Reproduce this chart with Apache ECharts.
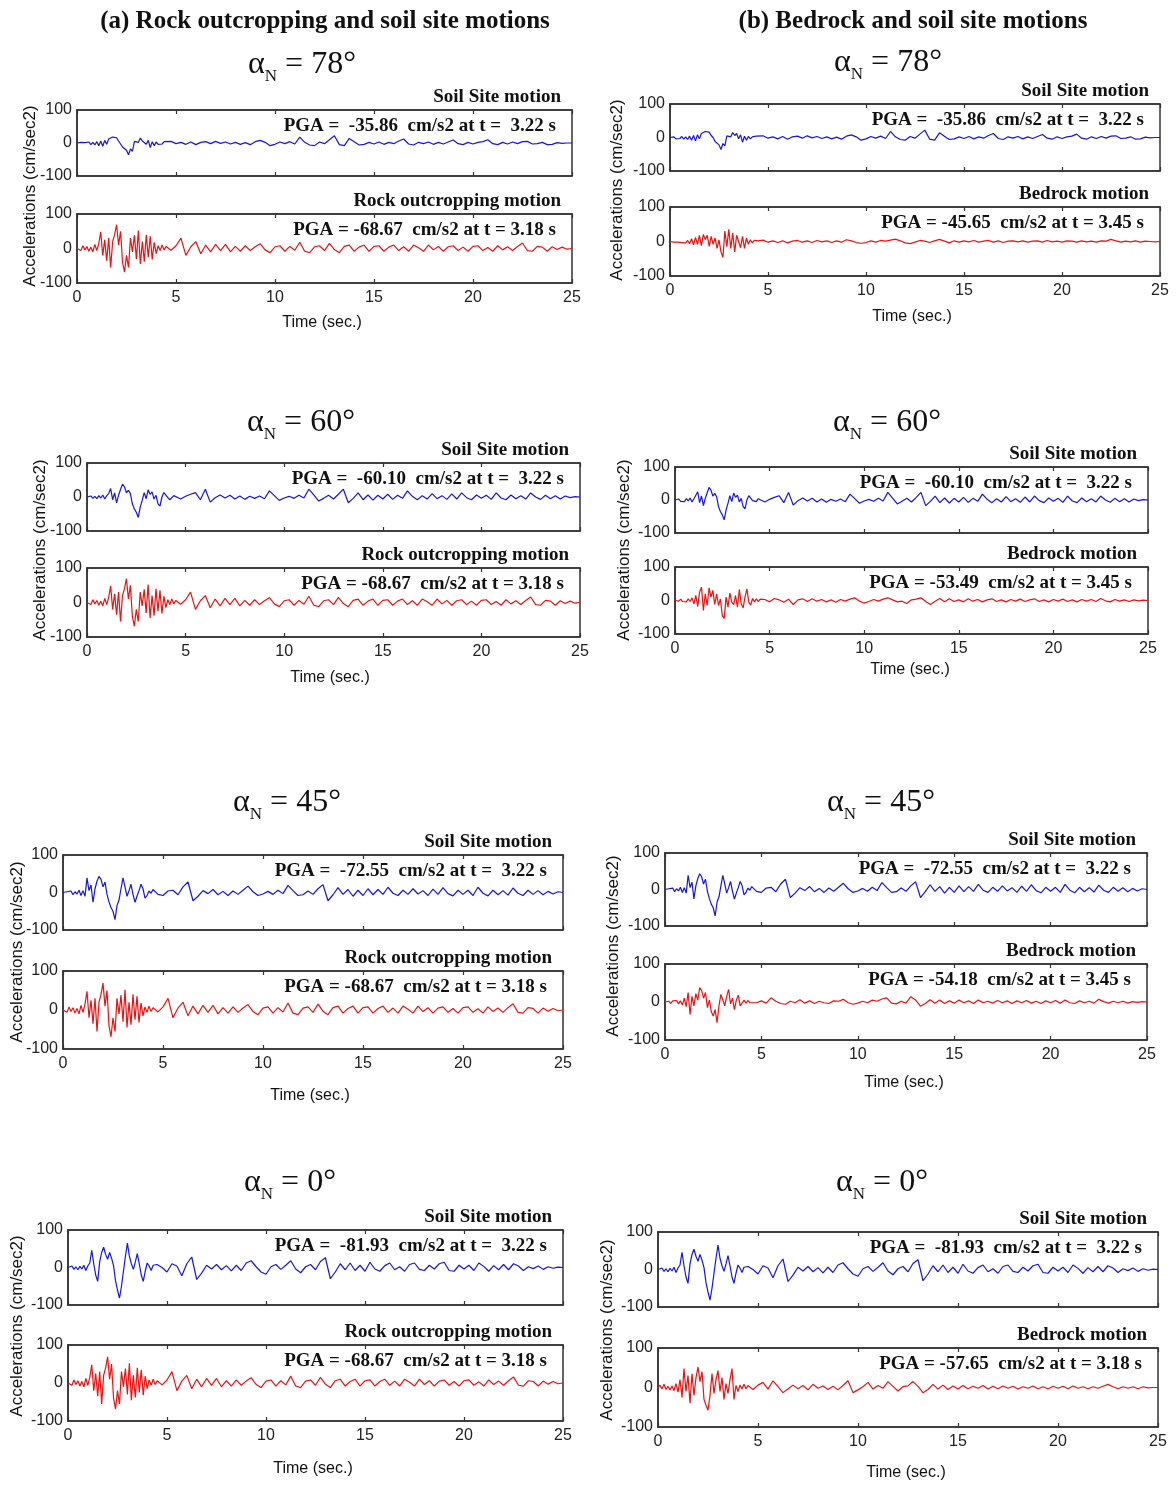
<!DOCTYPE html>
<html>
<head>
<meta charset="utf-8">
<script src="https://cdn.jsdelivr.net/npm/echarts@6/dist/echarts.min.js"></script>
<style>
html,body{margin:0;padding:0;background:#fff}
#main{width:1176px;height:1486px}
</style>
</head>
<body>
<div id="main"></div>
<script>
// time axis (s): 0.1 s steps while the strong shaking lasts, 0.25 s afterwards
var T = [
  0,0.1,0.2,0.3,0.4,0.5,0.6,0.7,0.8,0.9,
  1,1.1,1.2,1.3,1.4,1.5,1.6,1.7,1.8,1.9,
  2,2.1,2.2,2.3,2.4,2.5,2.6,2.7,2.8,2.9,
  3,3.1,3.2,3.3,3.4,3.5,3.6,3.7,3.8,3.9,
  4,4.1,4.2,4.3,4.4,4.5,
  4.75,
  5,5.25,5.5,5.75, 6,6.25,6.5,6.75, 7,7.25,7.5,7.75, 8,8.25,8.5,8.75,
  9,9.25,9.5,9.75, 10,10.25,10.5,10.75, 11,11.25,11.5,11.75, 12,12.25,12.5,12.75,
  13,13.25,13.5,13.75, 14,14.25,14.5,14.75, 15,15.25,15.5,15.75, 16,16.25,16.5,16.75,
  17,17.25,17.5,17.75, 18,18.25,18.5,18.75, 19,19.25,19.5,19.75, 20,20.25,20.5,20.75,
  21,21.25,21.5,21.75, 22,22.25,22.5,22.75, 23,23.25,23.5,23.75, 24,24.25,24.5,24.75,
  25
];

// rock outcropping motion (same for all angles)
var rockOut = [
  0,5,-6,8,-4,6,-8,4,-10,12,
  -6,15,48,-20,25,-35,30,-55,20,40,
  69,10,50,-40,-68.67,-20,-55,30,-10,38,
  -30,52,-45,20,-38,40,-25,35,-32,18,
  -15,8,-6,10,-4,6,
  -5,
  8,30,-20,5, 20,-15,10,-10, 12,-6,12,-10, 6,-8,8,-6,
  5,14,-4,-12, 5,8,-8,6, -5,18,-8,-12, 5,8,-6,15,
  -3,-12,6,10, -8,4,10,-8, 6,8,-8,4, 10,-6,5,-8,
  10,2,-8,10, -4,6,-8,5, 8,-6,4,-8, 6,8,-6,3,
  -8,8,-4,5, -6,6,16,-6, -8,6,4,-8, 5,-3,4,-2,
  0
];

// soil site motions
var soil78 = [
  0,-3,2,-4,1,-3,3,-5,2,-6,
  4,-8,6,-10,8,-4,12,8,18,14,
  16,6,0,-12,-8,-22,-35.86,-18,-25,5,
  10,2,15,6,12,-4,8,-14,4,-8,
  3,-4,2,-3,4,2,
  5,
  -2,2,-4,3, -5,2,4,-2, 5,-1,3,-3, 2,-4,1,-5,
  4,8,2,-8, -4,3,-2,4, -3,18,2,-6, -8,3,-2,10,
  22,-5,-8,14, 4,-6,-4,2, -3,3,-4,2, -2,6,12,-3,
  -6,2,-2,3, -4,2,-3,3, 9,-2,-5,2, -3,2,4,10,
  -2,-5,2,-3, 3,-2,4,5, -3,-2,2,-5, -4,1,-1,0,
  0
];
var soil60 = [
  0,-2,3,-4,2,-5,4,-3,6,-6,
  4,10,25,-8,12,-17,5,22,38,30,
  12,20,10,-20,-35,-45,-60.1,-30,-10,13,
  -5,21,8,15,-6,5,-20,-27,0,13,
  8,-2,-8,-5,4,8,
  -6,
  2,8,13,-8, 23,-15,-2,6, -3,5,-6,3, -7,2,-4,3,
  -5,18,4,-10, -3,2,-4,5, -3,23,6,-12, -4,5,-6,8,
  23,-17,-4,12, -8,6,-9,5, -6,8,-7,5, -4,18,2,-8,
  4,-6,10,-5, 4,-7,9,-6, 12,-2,-8,6, -4,5,-7,12,
  -3,-8,6,-5, 4,-6,12,0, -7,5,-5,4, -6,3,-2,1,
  0
];
var soil45 = [
  0,-4,2,-3,4,-6,2,-4,6,-8,
  5,-10,39,5,20,-26,10,30,43,35,
  15,28,-5,-25,-40,-50,-72.55,-35,-20,10,
  39,15,-10,5,22,-5,-26,-10,5,22,
  10,-15,-8,4,-2,8,
  -5,
  -8,4,6,-6, 15,28,-22,-10, 5,-3,8,-6, 3,-8,4,-5,
  6,17,2,-8, -4,3,-5,6, -3,19,5,-8, -6,4,-5,10,
  21,-22,-6,13, -5,8,-10,6, -8,10,-6,8, -5,14,-2,-8,
  6,-5,10,-4, 5,-8,9,-5, 13,-3,-9,6, -5,6,-8,14,
  -2,-9,6,-6, 5,-7,12,-2, -8,6,-5,5, -6,3,-4,2,
  0
];
var soil0 = [
  0,-3,4,-5,2,-6,3,-4,6,-8,
  4,12,46,10,-20,-37,15,40,54,35,
  22,40,25,5,-35,-60,-81.93,-50,-10,30,
  65,30,10,-5,15,37,10,-20,-37,-10,
  12,4,-8,6,2,8,
  0,
  -12,10,4,-22, 10,28,-32,-15, 6,-4,8,-6, 5,-9,6,-8,
  12,18,2,-12, -18,2,8,-5, 6,18,-4,-14, 2,8,-6,16,
  26,-30,-12,10, -6,12,-8,6, -10,14,-4,-10, 5,12,-6,2,
  -10,8,12,-5, -8,6,-4,10, 14,-8,-10,6, -4,6,-8,12,
  3,-10,5,-6, 8,-6,10,4, -8,2,-3,4, -5,2,-2,1,
  0
];

// bedrock motions
var bed78 = [
  0,2,-2,3,-2,2,-3,2,-4,3,
  -6,8,-10,12,-8,18,-12,20,6,18,
  -14,15,-8,10,-20,5,-30,-45.65,30,-15,
  35,-20,25,-30,18,22,-18,15,-20,10,
  -8,5,-4,3,-2,2,
  4,
  -2,2,-3,2, -4,1,3,-2, 2,-3,3,-1, 2,-3,2,-2,
  5,2,-3,-5, -3,2,-2,3, 1,4,7,2, -4,-6,-2,3,
  1,-3,2,6, 1,-4,2,-2, 2,-1,3,-2, 1,3,-2,2,
  -3,1,2,-1, 2,-2,1,2, -2,3,-1,1, -2,2,1,-2,
  2,-1,1,-2, 2,1,6,2, -2,1,-1,2, -2,1,0,-1,
  0
];
var bed60 = [
  0,3,-2,4,-3,2,-4,5,-3,8,
  -10,15,-18,25,40,-30,20,-15,38,10,
  30,-12,20,-15,5,-45,-53.49,10,-20,22,
  -5,-12,15,-20,33,-10,-22,10,35,-5,
  -14,6,-4,5,-3,4,
  3,
  -4,6,2,-5, 4,-12,2,5, -3,5,-2,3, -4,2,-5,3,
  -2,4,8,-2, -8,-3,3,-2, 4,8,2,-4, -2,-9,2,4,
  8,-3,-12,-2, 6,-4,5,-3, 2,-4,5,-2, 3,-4,2,5,
  -3,2,-4,3, -2,4,-3,2, 5,-3,2,-4, 3,-2,4,-3,
  2,-4,3,-2, 3,-3,6,-1, -4,3,-2,2, -3,2,-1,1,
  0
];
var bed45 = [
  0,-3,2,-4,3,-2,4,-5,3,-8,
  10,-12,25,-33,15,-10,22,5,38,30,
  10,25,-15,5,-25,-37,-20,-54.18,-10,20,
  25,-10,15,33,-5,10,-20,5,18,-10,
  -12,5,-3,4,-2,3,
  -2,
  3,-3,11,2, -4,-6,2,-2, 6,-3,3,-4, 2,-2,-4,3,
  2,7,-2,-6, -3,2,-2,5, 2,8,11,-3, -5,2,-3,14,
  5,-11,-4,6, -3,5,-4,3, -3,5,-2,3, -4,5,-2,2,
  -3,4,-2,3, -4,3,-2,4, -3,2,-4,3, -2,4,-3,5,
  -2,-4,3,-2, 2,-3,7,1, -3,2,-2,2, -3,1,-1,1,
  0
];
var bed0 = [
  0,6,-4,8,-5,3,-6,4,-8,10,
  -12,20,-25,48,-10,30,-40,35,-20,25,
  52,15,40,-30,-45,-57.65,-20,35,-15,20,
  43,-10,25,-30,10,-15,20,48,-30,5,
  -10,6,-4,8,-3,5,
  -5,
  6,13,-4,17, 2,-13,-4,6, -3,5,-6,8, -2,4,-5,3,
  -6,5,17,-13, -6,2,13,-4, 5,-2,15,3, -9,2,4,15,
  3,-13,-5,8, -4,6,-5,4, -4,5,-3,3, -2,5,-4,3,
  -3,4,-2,3, -4,2,-2,4, -3,2,-4,3, -2,3,-3,4,
  -2,2,-3,2, -2,3,8,2, -3,2,-2,2, -3,2,-1,0,
  0
];

var angles = ['78°','60°','45°','0°'];
var soilSeries = [soil78, soil60, soil45, soil0];
var bedSeries = [bed78, bed60, bed45, bed0];
var soilPga = ['-35.86','-60.10','-72.55','-81.93'];
var soilPgaT = ['3.22','3.22','3.22','3.22'];
var rockPga = '-68.67', rockPgaT = '3.18';
var bedPga = ['-45.65','-53.49','-54.18','-57.65'];
var bedPgaT = ['3.45','3.45','3.45','3.18'];

// page layout: [left, top, width, height] of each box, text anchors
var layout = [
  {top:[77,110,495,66], bot:[77,214,495,69], ang:[302,65], yl:[30,196], tl:[322,323]},
  {top:[670,104,490,67], bot:[670,207,490,69], ang:[888,63], yl:[617,190], tl:[912,317]},
  {top:[87,463,493,68], bot:[87,568,493,69], ang:[301,423], yl:[40,550], tl:[330,678]},
  {top:[675,467,473,66], bot:[675,567,473,67], ang:[887,423], yl:[624,550], tl:[910,670]},
  {top:[63,855,500,75], bot:[63,971,500,78], ang:[287,803], yl:[17,952], tl:[310,1096]},
  {top:[665,853,482,73], bot:[665,964,482,76], ang:[881,803], yl:[613,946], tl:[904,1083]},
  {top:[68,1230,495,75], bot:[68,1345,495,76], ang:[290,1183], yl:[17,1326], tl:[313,1469]},
  {top:[658,1232,500,75], bot:[658,1348,500,79], ang:[882,1183], yl:[607,1330], tl:[906,1473]}
];

var SERIF = '"Liberation Serif","Times New Roman",serif';
var SANS = '"Liberation Sans Narrow","Liberation Sans",Arial,sans-serif';
var BLUE = '#1414e8', RED = '#f01010', FRAME = '#333';

var grids = [], xAxes = [], yAxes = [], series = [], graphics = [];

function txt(x, y, text, font, align, extra){
  var el = {type:'text', x:x, y:y, silent:true,
    style:{text:text, font:font, fill:'#111', textAlign:align || 'center', textVerticalAlign:'middle'}};
  if (extra) for (var k in extra) el[k] = extra[k];
  return el;
}

function addPlot(rect, showLabels, values, color, name, pga){
  var gi = grids.length;
  grids.push({left:rect[0], top:rect[1], width:rect[2], height:rect[3],
    show:true, borderColor:FRAME, borderWidth:1.5, backgroundColor:'#fff'});
  var common = {gridIndex:gi, type:'value', min:0, max:25, interval:5,
    axisLine:{show:true, onZero:false, lineStyle:{color:FRAME, width:1.5}},
    axisTick:{show:true, inside:true, length:4, lineStyle:{color:FRAME, width:1.2}},
    splitLine:{show:false}};
  xAxes.push(Object.assign({}, common, {position:'bottom',
    axisLabel:{show:showLabels, color:'#222', fontSize:16, fontFamily:SANS, margin:7}}));
  xAxes.push(Object.assign({}, common, {position:'top', axisLabel:{show:false}}));
  yAxes.push({gridIndex:gi, type:'value', min:-100, max:100, interval:100,
    axisLine:{show:true, lineStyle:{color:FRAME, width:1.5}},
    axisTick:{show:false},
    axisLabel:{color:'#222', fontSize:16, fontFamily:SANS, margin:5},
    splitLine:{show:false}});
  series.push({type:'line', xAxisIndex:xAxes.length - 2, yAxisIndex:yAxes.length - 1,
    data:T.map(function(t, i){ return [t, values[i]]; }),
    showSymbol:false, silent:true, animation:false,
    lineStyle:{color:color, width:1.2}});
  var right = rect[0] + rect[2];
  graphics.push(txt(right - 11, rect[1] - 13, name, 'bold 19px ' + SERIF, 'right'));
  graphics.push(txt(right - 16, rect[1] + 16, pga, 'bold 19px ' + SERIF, 'right'));
}

layout.forEach(function(p, k){
  var row = Math.floor(k / 2), col = k % 2;
  addPlot(p.top, false, soilSeries[row], BLUE, 'Soil Site motion',
    'PGA =  ' + soilPga[row] + '  cm/s2 at t =  ' + soilPgaT[row] + ' s');
  if (col === 0) {
    addPlot(p.bot, true, rockOut, RED, 'Rock outcropping motion',
      'PGA = ' + rockPga + '  cm/s2 at t = ' + rockPgaT + ' s');
  } else {
    addPlot(p.bot, true, bedSeries[row], RED, 'Bedrock motion',
      'PGA = ' + bedPga[row] + '  cm/s2 at t = ' + bedPgaT[row] + ' s');
  }
  graphics.push({type:'text', x:p.ang[0], y:p.ang[1], silent:true,
    style:{text:'{a|α}{n|N}{a| = ' + angles[row] + '}', textAlign:'center', textVerticalAlign:'middle',
      fill:'#111',
      rich:{a:{font:'32px ' + SERIF, lineHeight:40, fill:'#111'},
            n:{font:'17px ' + SERIF, verticalAlign:'bottom', lineHeight:40, fill:'#111'}}}});
  graphics.push(txt(p.yl[0], p.yl[1], 'Accelerations (cm/sec2)', '17px ' + SANS, 'center',
    {rotation:Math.PI / 2}));
  graphics.push(txt(p.tl[0], p.tl[1], 'Time (sec.)', '16px ' + SANS, 'center'));
});

graphics.push(txt(325, 22, '(a) Rock outcropping and soil site motions', 'bold 25px ' + SERIF, 'center'));
graphics.push(txt(913, 22, '(b) Bedrock and soil site motions', 'bold 25px ' + SERIF, 'center'));

var chart = echarts.init(document.getElementById('main'), null, {renderer:'canvas'});
chart.setOption({
  backgroundColor:'#fff',
  animation:false,
  grid:grids,
  xAxis:xAxes,
  yAxis:yAxes,
  series:series,
  graphic:graphics
});
</script>
</body>
</html>
